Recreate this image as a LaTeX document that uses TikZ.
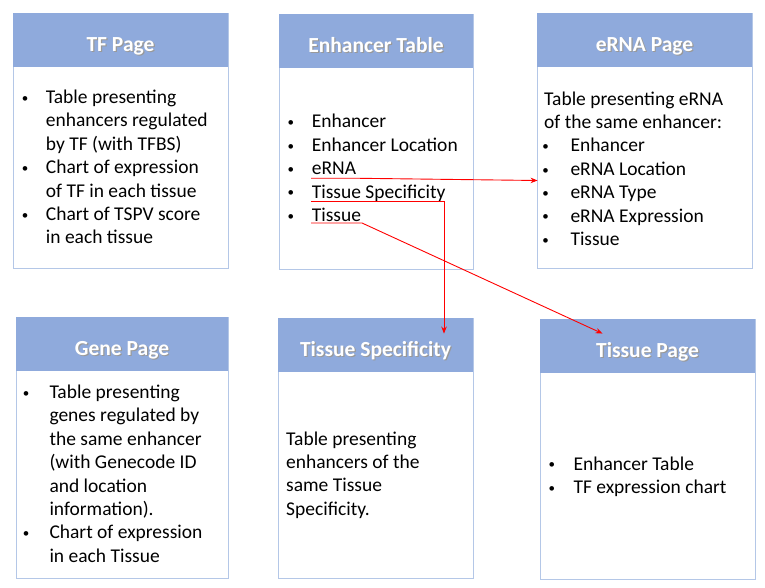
\documentclass[tikz,border=0pt]{standalone}
\usepackage{fontspec}
\setmainfont{Carlito}
\usetikzlibrary{arrows.meta,positioning,calc}

\definecolor{headblue}{RGB}{143,170,220}
\definecolor{boxline}{RGB}{180,199,231}

\begin{document}
\begin{tikzpicture}[
  x=1pt, y=-1pt,
  pagebox/.style={rectangle, draw=boxline, line width=0.9pt, fill=white,
                  inner sep=0pt, minimum height=255pt},
  pagehead/.style={rectangle, fill=headblue, inner sep=0pt,
                   minimum height=54pt, anchor=north},
  headtext/.style={text=white, inner sep=0pt, text height=14pt, text depth=4pt,
                   font=\bfseries\fontsize{21.5}{25}\selectfont, yshift=-7pt},
  bodytext/.style={anchor=north west, inner sep=0pt, align=left,
                   font=\fontsize{19.5}{23.4}\selectfont},
  link/.style={-{Stealth[length=7pt, width=5.5pt]}, red, line width=0.9pt}
]
\newcommand{\shtext}[1]{\rlap{\raisebox{-1.2pt}{\kern1.2pt\textcolor{black!40}{#1}}}#1}
\newcommand{\bl}{\makebox[9pt]{\raisebox{1.2pt}{\fontsize{13}{13}\selectfont\textbullet}}}

\useasboundingbox (0,0) rectangle (765,588);

% ---------- Page boxes ----------
\node[pagebox, minimum width=215pt] (tf)    at (120.5,140.5) {};
\node[pagebox, minimum width=194pt] (enh)   at (376,141.5)   {};
\node[pagebox, minimum width=215pt] (erna)  at (644.5,140.5) {};
\node[pagebox, minimum width=212pt, minimum height=261pt] (gene)  at (122,447.5)   {};
\node[pagebox, minimum width=195pt, minimum height=260pt] (tspec) at (375.5,448)   {};
\node[pagebox, minimum width=215pt, minimum height=260pt] (tpage) at (647.5,449)   {};

% ---------- Headers ----------
\node[pagehead, minimum width=215pt, label={[headtext]center:\shtext{TF Page}}]            (tfH)    at (tf.north)    {};
\node[pagehead, minimum width=194pt, label={[headtext]center:\shtext{Enhancer Table}}]     (enhH)   at (enh.north)   {};
\node[pagehead, minimum width=215pt, label={[headtext]center:\shtext{eRNA Page}}]          (ernaH)  at (erna.north)  {};
\node[pagehead, minimum width=212pt, label={[headtext]center:\shtext{Gene Page}}]          (geneH)  at (gene.north)  {};
\node[pagehead, minimum width=195pt, label={[headtext]center:\shtext{Tissue Specificity}}] (tspecH) at (tspec.north) {};
\node[pagehead, minimum width=215pt, label={[headtext]center:\shtext{Tissue Page}}]        (tpageH) at (tpage.north) {};

% ---------- Contents ----------
\node[bodytext] (tfT) at (20.5,86.9) {\begin{tabular}{@{}p{25.2pt}@{}l@{}}
\bl & Table presenting\\
    & enhancers regulated\\
    & by TF (with TFBS)\\
\bl & Chart of expression\\
    & of TF in each tissue\\
\bl & Chart of TSPV score\\
    & in each tissue
\end{tabular}};

\node[bodytext] (enhT) at (286.2,111.3) {\begin{tabular}{@{}p{25.5pt}@{}l@{}}
\bl & Enhancer\\
\bl & Enhancer Location\\
\bl & eRNA\\
\bl & Tissue Specificity\\
\bl & Tissue
\end{tabular}};

\node[bodytext] (ernaT) at (541,88.6) {\begin{tabular}{@{}p{29.3pt}@{}l@{}}
\multicolumn{2}{@{}l@{}}{\kern3pt Table presenting eRNA}\\
\multicolumn{2}{@{}l@{}}{\kern3pt of the same enhancer:}\\
\bl & Enhancer\\
\bl & eRNA Location\\
\bl & eRNA Type\\
\bl & eRNA Expression\\
\bl & Tissue
\end{tabular}};

\node[bodytext] (geneT) at (21.5,381.9) {\begin{tabular}{@{}p{27.8pt}@{}l@{}}
\bl & Table presenting\\
    & genes regulated by\\
    & the same enhancer\\
    & (with Genecode ID\\
    & and location\\
    & information).\\
\bl & Chart of expression\\
    & in each Tissue
\end{tabular}};

\node[bodytext] (tspecT) at (286,428.6) {\begin{tabular}{@{}l@{}}
Table presenting\\
enhancers of the\\
same Tissue\\
Specificity.
\end{tabular}};

\node[bodytext] (tpageT) at (547.2,453.6) {\begin{tabular}{@{}p{26.1pt}@{}l@{}}
\bl & Enhancer Table\\
\bl & TF expression chart
\end{tabular}};

% ---------- Links ----------
\coordinate (ulA)  at (311,178.3);
\coordinate (ulAe) at (360,178.3);
\coordinate (ulB)  at (311,201.7);
\coordinate (ulBe) at (444,201.7);
\coordinate (ulC)  at (311,223);
\coordinate (ulCe) at (362,223);

\draw[link] (ulA) -- (ulAe) -- ([shift={(1,40)}]erna.west);
\draw[link] (ulB) -- (ulBe) -- ($(ulBe |- tspecH.north)+(0,16)$);
\draw[link] (ulC) -- (ulCe) -- ($(tpageH.north)+(-45,15)$);

\end{tikzpicture}
\end{document}
